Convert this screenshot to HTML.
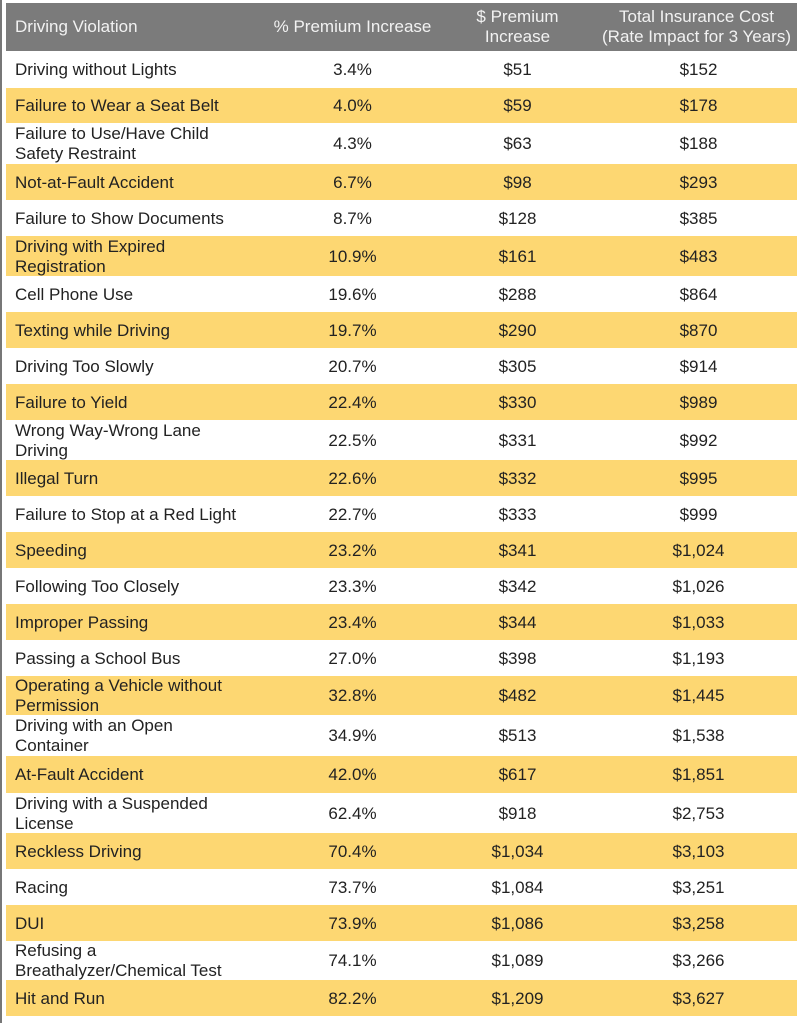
<!DOCTYPE html>
<html><head><meta charset="utf-8"><style>
body{margin:0;width:805px;height:1023px;background:#fff;position:relative;overflow:hidden;font-family:"Liberation Sans",sans-serif;color:#222;}
.lb{position:absolute;left:0;top:0;width:2px;height:1023px;background:#777;}
.r{position:absolute;left:6px;width:791px;}
.y{background:#fdd772;}
.c{position:absolute;top:0;height:100%;display:flex;align-items:center;font-size:17px;line-height:20px;padding-top:1px;box-sizing:border-box;}
.c1{left:9px;width:262px;}
.c2{left:264px;width:165px;justify-content:center;}
.c3{left:429px;width:165px;justify-content:center;}
.c4{left:594px;width:197px;justify-content:center;}
.h{background:#7b7b7b;color:#f2f2f2;}
.h .c{text-align:center;font-size:17px;line-height:20px;padding-top:0;}
</style></head><body>
<div class="lb"></div>
<div class="r h" style="top:3px;height:48px">
<div class="c c1">Driving Violation</div>
<div class="c c2" style="left:259px;width:175px">% Premium Increase</div>
<div class="c c3">$ Premium<br>Increase</div>
<div class="c c4" style="left:584px;width:213px">Total Insurance Cost<br>(Rate Impact for 3 Years)</div>
</div>
<div class="r" style="top:51px;height:37px"><div class="c c1">Driving without Lights</div><div class="c c2">3.4%</div><div class="c c3">$51</div><div class="c c4">$152</div></div>
<div class="r y" style="top:88px;height:35px"><div class="c c1">Failure to Wear a Seat Belt</div><div class="c c2">4.0%</div><div class="c c3">$59</div><div class="c c4">$178</div></div>
<div class="r" style="top:123px;height:41px"><div class="c c1">Failure to Use/Have Child<br>Safety Restraint</div><div class="c c2">4.3%</div><div class="c c3">$63</div><div class="c c4">$188</div></div>
<div class="r y" style="top:164px;height:36px"><div class="c c1">Not-at-Fault Accident</div><div class="c c2">6.7%</div><div class="c c3">$98</div><div class="c c4">$293</div></div>
<div class="r" style="top:200px;height:36px"><div class="c c1">Failure to Show Documents</div><div class="c c2">8.7%</div><div class="c c3">$128</div><div class="c c4">$385</div></div>
<div class="r y" style="top:236px;height:40px"><div class="c c1">Driving with Expired<br>Registration</div><div class="c c2">10.9%</div><div class="c c3">$161</div><div class="c c4">$483</div></div>
<div class="r" style="top:276px;height:36px"><div class="c c1">Cell Phone Use</div><div class="c c2">19.6%</div><div class="c c3">$288</div><div class="c c4">$864</div></div>
<div class="r y" style="top:312px;height:36px"><div class="c c1">Texting while Driving</div><div class="c c2">19.7%</div><div class="c c3">$290</div><div class="c c4">$870</div></div>
<div class="r" style="top:348px;height:36px"><div class="c c1">Driving Too Slowly</div><div class="c c2">20.7%</div><div class="c c3">$305</div><div class="c c4">$914</div></div>
<div class="r y" style="top:384px;height:36px"><div class="c c1">Failure to Yield</div><div class="c c2">22.4%</div><div class="c c3">$330</div><div class="c c4">$989</div></div>
<div class="r" style="top:420px;height:40px"><div class="c c1">Wrong Way-Wrong Lane<br>Driving</div><div class="c c2">22.5%</div><div class="c c3">$331</div><div class="c c4">$992</div></div>
<div class="r y" style="top:460px;height:36px"><div class="c c1">Illegal Turn</div><div class="c c2">22.6%</div><div class="c c3">$332</div><div class="c c4">$995</div></div>
<div class="r" style="top:496px;height:36px"><div class="c c1">Failure to Stop at a Red Light</div><div class="c c2">22.7%</div><div class="c c3">$333</div><div class="c c4">$999</div></div>
<div class="r y" style="top:532px;height:36px"><div class="c c1">Speeding</div><div class="c c2">23.2%</div><div class="c c3">$341</div><div class="c c4">$1,024</div></div>
<div class="r" style="top:568px;height:36px"><div class="c c1">Following Too Closely</div><div class="c c2">23.3%</div><div class="c c3">$342</div><div class="c c4">$1,026</div></div>
<div class="r y" style="top:604px;height:36px"><div class="c c1">Improper Passing</div><div class="c c2">23.4%</div><div class="c c3">$344</div><div class="c c4">$1,033</div></div>
<div class="r" style="top:640px;height:36px"><div class="c c1">Passing a School Bus</div><div class="c c2">27.0%</div><div class="c c3">$398</div><div class="c c4">$1,193</div></div>
<div class="r y" style="top:676px;height:39px"><div class="c c1">Operating a Vehicle without<br>Permission</div><div class="c c2">32.8%</div><div class="c c3">$482</div><div class="c c4">$1,445</div></div>
<div class="r" style="top:715px;height:41px"><div class="c c1">Driving with an Open<br>Container</div><div class="c c2">34.9%</div><div class="c c3">$513</div><div class="c c4">$1,538</div></div>
<div class="r y" style="top:756px;height:37px"><div class="c c1">At-Fault Accident</div><div class="c c2">42.0%</div><div class="c c3">$617</div><div class="c c4">$1,851</div></div>
<div class="r" style="top:793px;height:40px"><div class="c c1">Driving with a Suspended<br>License</div><div class="c c2">62.4%</div><div class="c c3">$918</div><div class="c c4">$2,753</div></div>
<div class="r y" style="top:833px;height:36px"><div class="c c1">Reckless Driving</div><div class="c c2">70.4%</div><div class="c c3">$1,034</div><div class="c c4">$3,103</div></div>
<div class="r" style="top:869px;height:36px"><div class="c c1">Racing</div><div class="c c2">73.7%</div><div class="c c3">$1,084</div><div class="c c4">$3,251</div></div>
<div class="r y" style="top:905px;height:36px"><div class="c c1">DUI</div><div class="c c2">73.9%</div><div class="c c3">$1,086</div><div class="c c4">$3,258</div></div>
<div class="r" style="top:941px;height:39px"><div class="c c1">Refusing a<br>Breathalyzer/Chemical Test</div><div class="c c2">74.1%</div><div class="c c3">$1,089</div><div class="c c4">$3,266</div></div>
<div class="r y" style="top:980px;height:36px"><div class="c c1">Hit and Run</div><div class="c c2">82.2%</div><div class="c c3">$1,209</div><div class="c c4">$3,627</div></div>
</body></html>
